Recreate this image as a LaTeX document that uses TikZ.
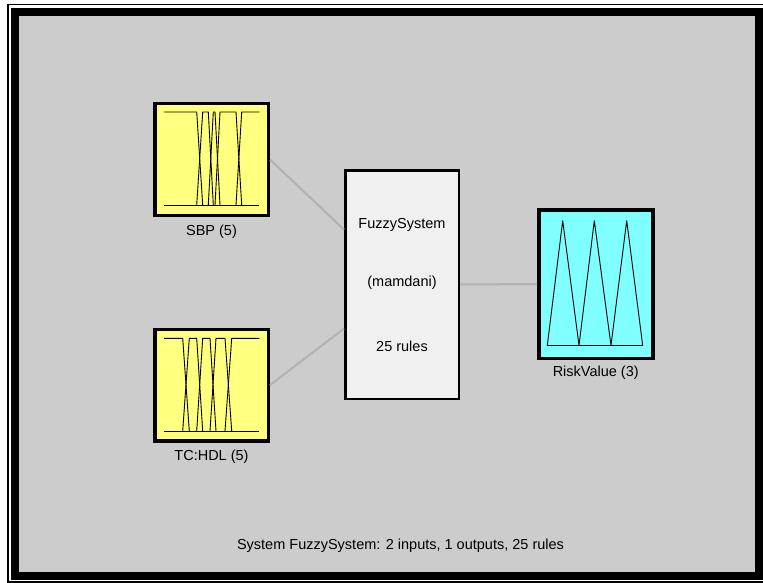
\documentclass[tikz,border=0pt]{standalone}
\usepackage{fontspec}
\setmainfont{Liberation Sans}
\definecolor{bggray}{RGB}{204,204,204}
\definecolor{inyellow}{RGB}{255,255,128}
\definecolor{outcyan}{RGB}{128,255,255}
\definecolor{sysfill}{RGB}{240,240,240}
\definecolor{linkgray}{RGB}{178,178,178}
\begin{document}
\begin{tikzpicture}[x=1pt,y=-1pt,
  every node/.style={font=\fontsize{14.5}{17}\selectfont},
  inbox/.style={draw=black, line width=3.5pt, fill=inyellow, inner sep=0pt, minimum width=113.5pt, minimum height=111.5pt},
  outbox/.style={draw=black, line width=3.5pt, fill=outcyan, inner sep=0pt, minimum width=114pt, minimum height=148.5pt},
  sysbox/.style={draw=black, line width=2.5pt, fill=sysfill, inner sep=0pt, minimum width=113.5pt, minimum height=228.5pt},
  link/.style={draw=linkgray, line width=2pt},
  mf/.style={draw=black, line width=0.9pt, line join=round},
  lbl/.style={inner sep=0pt, anchor=center}]
\useasboundingbox (0,0) rectangle (763,583);
\fill[white] (0,0) rectangle (763,583);
\draw[line width=1.5pt] (7.75,4.75) rectangle (775,581.75);
\fill[black] (11,8) rectangle (775,580);
\fill[bggray] (19,16) rectangle (755,572);

% boxes
\node[inbox] (sbp) at (211.5,159.5) {};
\node[inbox] (tchdl) at (211.5,385) {};
\node[sysbox] (fuzzy) at (402,284.5) {};
\node[outbox] (risk) at (595.75,284) {};

% connectors
\draw[link] (sbp.east) -- (fuzzy);
\draw[link] (tchdl.east) -- (fuzzy);
\draw[link] (fuzzy.east) -- (risk.west);

% SBP membership functions
\draw[mf] (164,205) -- (259.3,205);
\draw[mf] (164,112) -- (196.7,112) -- (202.7,205);
\draw[mf] (196.7,205) -- (202.7,112) -- (208.3,112) -- (213.3,205);
\draw[mf] (208.3,205) -- (213.3,112) -- (215,112) -- (220,205);
\draw[mf] (215,205) -- (220,112) -- (236,112) -- (241.7,205);
\draw[mf] (236,205) -- (241.7,112) -- (259.3,112);

% TC:HDL membership functions
\draw[mf] (164,431) -- (259.3,431);
\draw[mf] (164,338.3) -- (182.7,338.3) -- (189.3,431);
\draw[mf] (182.7,431) -- (189.3,338.3) -- (196.7,338.3) -- (202.7,431);
\draw[mf] (196.7,431) -- (202.7,338.3) -- (210,338.3) -- (216,431);
\draw[mf] (210,431) -- (216,338.3) -- (225,338.3) -- (231.7,431);
\draw[mf] (225,431) -- (231.7,338.3) -- (259.3,338.3);

% RiskValue membership functions
\draw[mf] (547.3,345.5) -- (642.7,345.5);
\draw[mf] (547.3,345.5) -- (562.7,220.7) -- (579,345.5) -- (594.3,220.7) -- (611,345.5) -- (626.7,220.7) -- (642.7,345.5);

% labels
\node[lbl] (sbplbl) at (211.5,232) {SBP (5)};
\node[lbl] (tchdllbl) at (211.5,457) {TC:HDL (5)};
\node[lbl] (risklbl) at (595.75,373) {RiskValue (3)};
\node[lbl] (sysname) at (402,225) {FuzzySystem};
\node[lbl] (systype) at (402,283) {(mamdani)};
\node[lbl] (sysrules) at (402,346) {25 rules};
\node[lbl] (caption) at (400.5,546) {System FuzzySystem: 2 inputs, 1 outputs, 25 rules};
\end{tikzpicture}
\end{document}
